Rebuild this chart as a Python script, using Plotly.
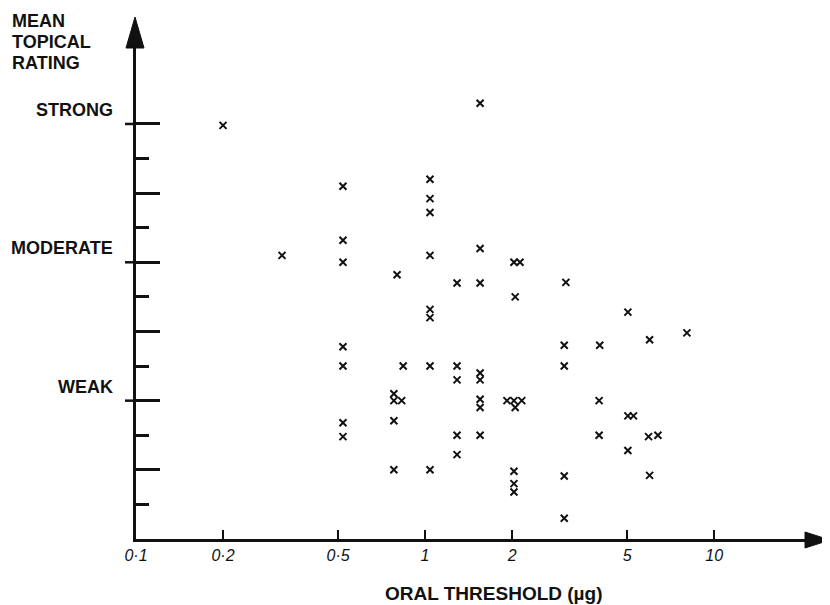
import plotly.graph_objects as go

# ---- data ----
oral_threshold = [
    0.20,
    0.32,
    0.52, 0.52, 0.52, 0.52, 0.52, 0.52, 0.52,
    0.80, 0.84, 0.78, 0.78, 0.83, 0.78, 0.78,
    1.04, 1.04, 1.04, 1.04, 1.04, 1.04, 1.04, 1.04,
    1.29, 1.29, 1.29, 1.29, 1.29,
    1.55, 1.55, 1.55, 1.55, 1.55, 1.55, 1.55, 1.55,
    2.03, 2.13, 2.05, 1.92, 2.03, 2.16, 2.05, 2.03, 2.03, 2.03,
    3.07, 3.03, 3.03, 3.03, 3.03,
    4.02, 4.00, 4.00,
    5.03, 5.03, 5.26, 5.03,
    5.98, 5.93, 6.39, 5.98,
    8.05,
]
topical_rating = [
    2.99,
    2.05,
    2.55, 2.16, 2.00, 1.39, 1.25, 0.84, 0.74,
    1.91, 1.25, 1.05, 1.00, 1.00, 0.855, 0.50,
    2.60, 2.46, 2.36, 2.05, 1.66, 1.60, 1.25, 0.50,
    1.85, 1.25, 1.15, 0.75, 0.61,
    3.15, 2.10, 1.85, 1.20, 1.15, 1.01, 0.95, 0.75,
    2.00, 2.00, 1.75, 1.00, 1.00, 1.00, 0.95, 0.49, 0.40, 0.34,
    1.855, 1.40, 1.25, 0.455, 0.15,
    1.40, 1.00, 0.75,
    1.64, 0.89, 0.89, 0.64,
    1.44, 0.74, 0.75, 0.46,
    1.49,
]

x_tick_values = [0.1, 0.2, 0.5, 1, 2, 5, 10]
x_tick_labels = ["0·1", "0·2", "0·5", "1", "2", "5", "10"]

rating_values = [1, 2, 3]
rating_labels = ["WEAK", "MODERATE", "STRONG"]
half_ticks = [0.5, 1.0, 1.5, 2.0, 2.5, 3.0]
quarter_ticks = [0.25, 0.75, 1.25, 1.75, 2.25, 2.75]

y_title_lines = ["MEAN", "TOPICAL", "RATING"]
x_title = "ORAL THRESHOLD (µg)"

FONT = "Liberation Sans, Arial, Helvetica, sans-serif"
INK = "#111111"

fig = go.Figure()
fig.add_trace(go.Scatter(
    x=oral_threshold, y=topical_rating, mode="markers",
    marker=dict(symbol="x-thin", size=7, line=dict(width=2, color=INK), color=INK),
    showlegend=False, hoverinfo="x+y",
))

# the page body adds an 8px offset, so the figure is 8px smaller on each side
fig.update_layout(
    width=822, height=597,
    margin=dict(l=128, r=22, t=40, b=66),
    paper_bgcolor="white", plot_bgcolor="white",
    font=dict(family=FONT, color=INK),
    xaxis=dict(
        type="log", range=[-1, 1.3247],
        showgrid=False, zeroline=False,
        showline=True, linecolor=INK, linewidth=2.5,
        tickmode="array", tickvals=x_tick_values, ticktext=x_tick_labels,
        ticks="inside", ticklen=9, tickwidth=1.8, tickcolor=INK,
        tickfont=dict(family=FONT, size=16, style="italic", color=INK),
        ticklabelstandoff=0,
    ),
    yaxis=dict(
        range=[0, 3.549],
        showgrid=False, zeroline=False,
        showline=True, linecolor=INK, linewidth=2.5,
        tickmode="array", tickvals=half_ticks, showticklabels=False,
        ticks="inside", ticklen=24, tickwidth=2.5, tickcolor=INK,
        minor=dict(tickmode="array", tickvals=quarter_ticks, ticks="inside",
                   ticklen=13, tickwidth=2.5, tickcolor=INK),
    ),
)

# major rating ticks cross the axis to the left
for v in rating_values:
    fig.add_shape(type="line", xref="paper", yref="y", xsizemode="pixel", xanchor=0,
                  x0=-11, x1=0, y0=v, y1=v, line=dict(color=INK, width=2.5))

# rating labels above their ticks
for v, t in zip(rating_values, rating_labels):
    fig.add_annotation(xref="paper", yref="y", x=0, y=v, xshift=-21, yshift=14,
                       xanchor="right", yanchor="middle", text=t, showarrow=False,
                       font=dict(family=FONT, size=18, weight="bold", color=INK))

# arrow heads
fig.add_shape(type="path", xref="paper", yref="paper", xsizemode="pixel", ysizemode="pixel",
              xanchor=0, yanchor=1, path="M -10,0 L 8,0 L -1,31 Z",
              fillcolor=INK, line=dict(color=INK, width=1))
fig.add_shape(type="path", xref="paper", yref="paper", xsizemode="pixel", ysizemode="pixel",
              xanchor=1, yanchor=0, path="M -3,-9 L -3,7 L 22,-1 Z",
              fillcolor=INK, line=dict(color=INK, width=1))

# y title (three lines)
for i, t in enumerate(y_title_lines):
    fig.add_annotation(xref="paper", yref="paper", x=0, xshift=-126, y=1, yshift=27 - 21 * i,
                       xanchor="left", yanchor="middle", text=t, showarrow=False,
                       font=dict(family=FONT, size=18, weight="bold", color=INK))

# x title
fig.add_annotation(xref="paper", yref="paper", x=0.532, y=0, yshift=-54,
                   xanchor="center", yanchor="middle", text=x_title, showarrow=False,
                   font=dict(family=FONT, size=19, weight="bold", color=INK))

fig.write_html("out.html")
